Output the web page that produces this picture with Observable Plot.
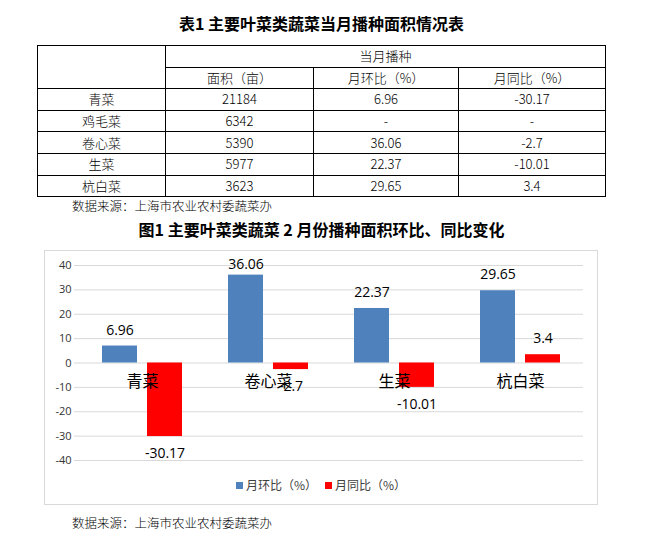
<!DOCTYPE html>
<html>
<head>
<meta charset="utf-8">
<script src="https://cdn.jsdelivr.net/npm/d3@7"></script>
<script src="https://cdn.jsdelivr.net/npm/@observablehq/plot@0.6"></script>
<style>
  html, body { margin: 0; padding: 0; background: #fff; }
  body { width: 653px; height: 541px; position: relative; overflow: hidden; font-family: "Noto Sans CJK SC", sans-serif; color: #000; }
  .title { position: absolute; left: 0; width: 643px; text-align: center; font-weight: bold; font-size: 16px; line-height: 22px; }
  table { position: absolute; left: 37px; top: 45px; width: 568px; border-collapse: collapse; table-layout: fixed; font-size: 13px; }
  td { border: 1px solid #000; text-align: center; height: 20.6px; padding: 0; line-height: 20px; font-weight: 300; }
  .src { position: absolute; left: 72px; font-size: 12.5px; line-height: 16px; font-weight: 300; }
  #chartbox { position: absolute; left: 44px; top: 250px; width: 554px; height: 255px; border: 1px solid #d9d9d9; box-sizing: border-box; }
  #chart { position: absolute; left: 0; top: 0; }
  #legend { position: absolute; left: 0; width: 552px; top: 226px; text-align: center; font-size: 12px; color: #404040; line-height: 16px; }
  #legend span.sw { display: inline-block; width: 7px; height: 7px; margin-right: 3px; vertical-align: 1px; }
  #legend span.item { margin: 0 4px; }
</style>
</head>
<body>
<div class="title" style="top:12px">表1&nbsp;主要叶菜类蔬菜当月播种面积情况表</div>
<table id="tbl"></table>
<div class="src" style="top:198px">数据来源：上海市农业农村委蔬菜办</div>
<div class="title" style="top:218px">图1&nbsp;主要叶菜类蔬菜 2 月份播种面积环比、同比变化</div>
<div id="chartbox"><div id="chart"></div><div id="legend"></div></div>
<div class="src" style="top:515px">数据来源：上海市农业农村委蔬菜办</div>
<script>
// ---- data ----
const tableVegetables = ["青菜", "鸡毛菜", "卷心菜", "生菜", "杭白菜"];
const tableArea = ["21184", "6342", "5390", "5977", "3623"];
const tableMoM = ["6.96", "-", "36.06", "22.37", "29.65"];
const tableYoY = ["-30.17", "-", "-2.7", "-10.01", "3.4"];
const tableGroupHeader = "当月播种";
const tableHeaders = ["面积（亩）", "月环比（%）", "月同比（%）"];

const categories = ["青菜", "卷心菜", "生菜", "杭白菜"];
const series = ["月环比（%）", "月同比（%）"];
const momValues = [6.96, 36.06, 22.37, 29.65];
const yoyValues = [-30.17, -2.7, -10.01, 3.4];
const yTicks = [-40, -30, -20, -10, 0, 10, 20, 30, 40];
const colors = ["#4f81bd", "#ff0000"];

// ---- table ----
const tbl = document.getElementById("tbl");
const cg = document.createElement("colgroup");
[128, 148, 145, 147].forEach(w => { const c = document.createElement("col"); c.style.width = w + "px"; cg.appendChild(c); });
tbl.appendChild(cg);
let tr = tbl.insertRow();
let td = tr.insertCell(); td.rowSpan = 2;
td = tr.insertCell(); td.colSpan = 3; td.textContent = tableGroupHeader;
tr = tbl.insertRow();
tableHeaders.forEach(h => { const c = tr.insertCell(); c.textContent = h; });
tableVegetables.forEach((v, i) => {
  const r = tbl.insertRow();
  [v, tableArea[i], tableMoM[i], tableYoY[i]].forEach(t => { const c = r.insertCell(); c.textContent = t; });
});

// ---- chart ----
const rows = [];
categories.forEach((c, i) => {
  rows.push({cat: c, series: series[0], value: momValues[i]});
  rows.push({cat: c, series: series[1], value: yoyValues[i]});
});
const catRows = categories.map(c => ({cat: c, base: 0}));
// labels that would overflow the top of the plot area are kept inside it (as in the reference)
const fitsAbove = d => d.value >= 0 && d.value <= 33.8;
const overflowsTop = d => d.value > 33.8;

const chart = Plot.plot({
  width: 552,
  height: 225,
  marginLeft: 33,
  marginRight: 14,
  marginTop: 14,
  marginBottom: 16,
  style: {fontFamily: "'Open Sans', 'Noto Sans CJK SC', sans-serif", background: "transparent"},
  fx: {domain: categories, padding: 0, axis: null},
  x: {domain: series, paddingInner: 0.22, paddingOuter: 0.51, axis: null},
  y: {domain: [-40, 40]},
  color: {domain: series, range: colors},
  marks: [
    Plot.gridY(yTicks, {stroke: "#d9d9d9", strokeOpacity: 1}),
    Plot.axisY({ticks: yTicks, tickFormat: d => String(d), tickSize: 5, tickPadding: 3, line: true, stroke: "#d9d9d9", strokeOpacity: 1, fill: "#333", fontSize: 11}),
    Plot.barY(rows, {fx: "cat", x: "series", y: "value", fill: "series"}),
    Plot.text(catRows, {fx: "cat", y: "base", text: "cat", dy: 19, fontSize: 16, fill: "#000", fontFamily: "'Noto Sans CJK SC', sans-serif"}),
    Plot.text(rows, {filter: fitsAbove, fx: "cat", x: "series", y: "value", text: d => String(d.value), dy: -16, fontSize: 14, fill: "#000"}),
    Plot.text(rows, {filter: overflowsTop, fx: "cat", x: "series", frameAnchor: "top", lineAnchor: "middle", text: d => String(d.value), dy: -1, fontSize: 14, fill: "#000"}),
    Plot.text(rows, {filter: d => d.value < 0, fx: "cat", x: "series", y: "value", text: d => String(d.value), dy: 17, fontSize: 14, fill: "#000"})
  ]
});
document.getElementById("chart").appendChild(chart);

// ---- legend ----
const lg = document.getElementById("legend");
series.forEach((s, i) => {
  const item = document.createElement("span");
  item.className = "item";
  item.innerHTML = `<span class="sw" style="background:${colors[i]}"></span>${s}`;
  lg.appendChild(item);
});
</script>
</body>
</html>
